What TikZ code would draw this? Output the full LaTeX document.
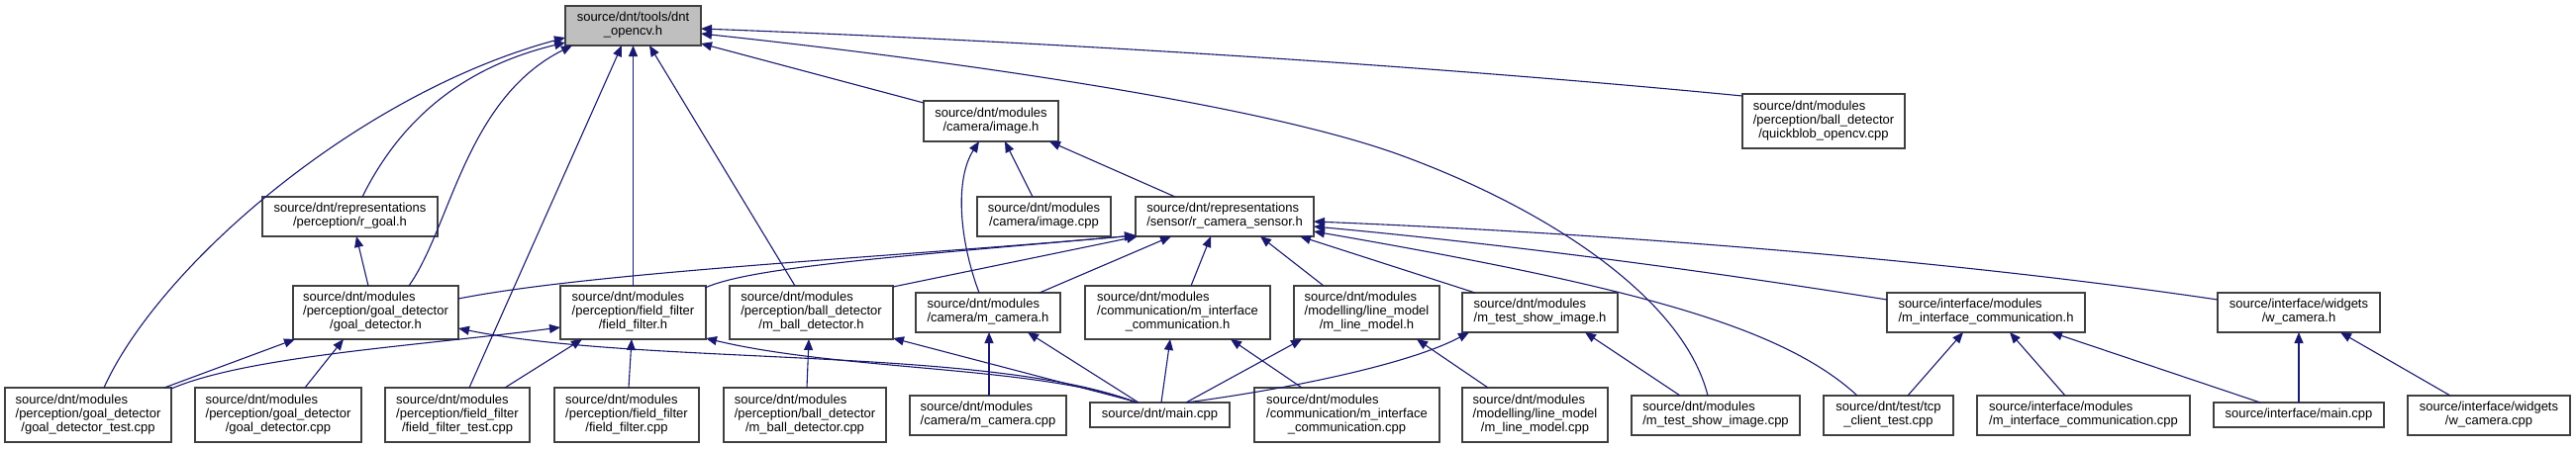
\documentclass[tikz,border=0pt]{standalone}
\usepackage{fontspec}
\setmainfont{Liberation Sans}
\usetikzlibrary{calc,arrows.meta}
\definecolor{edgeblue}{RGB}{25,25,112}
\definecolor{topgray}{RGB}{191,191,191}
\newcommand\lbl[2]{\begin{tabular}{@{}l@{}}#1\\\multicolumn{1}{@{}c@{}}{#2}\end{tabular}}
\begin{document}
\begin{tikzpicture}[x=1pt,y=-1pt,
  box/.style={draw=black!75, line width=1.1pt, fill=white, inner sep=0pt, outer sep=0pt,
    font=\fontsize{13}{14}\selectfont, align=center},
  edge/.style={draw=edgeblue, line width=1.1pt, -{Triangle[length=11pt,width=9pt,fill=edgeblue]}}]
\useasboundingbox (0,0) rectangle (2602,453);

% nodes
\node[box,minimum width=137pt,minimum height=40pt,fill=topgray] (opencv) at (639.5,26) {\lbl{source/dnt/tools/dnt}{\_opencv.h}};
\node[box,minimum width=177pt,minimum height=40pt] (rgoal) at (353.5,219) {\lbl{source/dnt/representations}{/perception/r\_goal.h}};
\node[box,minimum width=136pt,minimum height=41pt] (imageh) at (1001,122.5) {\lbl{source/dnt/modules}{/camera/image.h}};
\node[box,minimum width=135pt,minimum height=40pt] (imagecpp) at (1054.5,219) {\lbl{source/dnt/modules}{/camera/image.cpp}};
\node[box,minimum width=180pt,minimum height=40pt] (rcam) at (1237,219) {\lbl{source/dnt/representations}{/sensor/r\_camera\_sensor.h}};
\node[box,minimum width=164pt,minimum height=55pt] (quick) at (1842,122.5) {\lbl{source/dnt/modules\\/perception/ball\_detector}{/quickblob\_opencv.cpp}};
\node[box,minimum width=167pt,minimum height=54pt] (goalh) at (379.5,316) {\lbl{source/dnt/modules\\/perception/goal\_detector}{/goal\_detector.h}};
\node[box,minimum width=147pt,minimum height=54pt] (ffh) at (639.5,316) {\lbl{source/dnt/modules\\/perception/field\_filter}{/field\_filter.h}};
\node[box,minimum width=165pt,minimum height=54pt] (ballh) at (819.5,316) {\lbl{source/dnt/modules\\/perception/ball\_detector}{/m\_ball\_detector.h}};
\node[box,minimum width=146pt,minimum height=40pt] (camh) at (998,316) {\lbl{source/dnt/modules}{/camera/m\_camera.h}};
\node[box,minimum width=187pt,minimum height=54pt] (icomh) at (1189.5,316) {\lbl{source/dnt/modules\\/communication/m\_interface}{\_communication.h}};
\node[box,minimum width=147pt,minimum height=54pt] (lineh) at (1380.5,316) {\lbl{source/dnt/modules\\/modelling/line\_model}{/m\_line\_model.h}};
\node[box,minimum width=157pt,minimum height=40pt] (showh) at (1555.5,316) {\lbl{source/dnt/modules}{/m\_test\_show\_image.h}};
\node[box,minimum width=200pt,minimum height=40pt] (iicomh) at (2006,316) {\lbl{source/interface/modules}{/m\_interface\_communication.h}};
\node[box,minimum width=164pt,minimum height=40pt] (wcamh) at (2322,316) {\lbl{source/interface/widgets}{/w\_camera.h}};

\node[box,minimum width=168pt,minimum height=55pt] (goaltest) at (89,419.5) {\lbl{source/dnt/modules\\/perception/goal\_detector}{/goal\_detector\_test.cpp}};
\node[box,minimum width=168pt,minimum height=55pt] (goalcpp) at (281,419.5) {\lbl{source/dnt/modules\\/perception/goal\_detector}{/goal\_detector.cpp}};
\node[box,minimum width=146pt,minimum height=55pt] (fftest) at (462,419.5) {\lbl{source/dnt/modules\\/perception/field\_filter}{/field\_filter\_test.cpp}};
\node[box,minimum width=146pt,minimum height=55pt] (ffcpp) at (633,419.5) {\lbl{source/dnt/modules\\/perception/field\_filter}{/field\_filter.cpp}};
\node[box,minimum width=164pt,minimum height=55pt] (ballcpp) at (813,419.5) {\lbl{source/dnt/modules\\/perception/ball\_detector}{/m\_ball\_detector.cpp}};
\node[box,minimum width=158pt,minimum height=40pt] (camcpp) at (998,420) {\lbl{source/dnt/modules}{/camera/m\_camera.cpp}};
\node[box,minimum width=141pt,minimum height=25pt] (maincpp) at (1171.5,419.5) {source/dnt/main.cpp};
\node[box,minimum width=187pt,minimum height=55pt] (icomcpp) at (1360.5,419.5) {\lbl{source/dnt/modules\\/communication/m\_interface}{\_communication.cpp}};
\node[box,minimum width=147pt,minimum height=55pt] (linecpp) at (1550.5,419.5) {\lbl{source/dnt/modules\\/modelling/line\_model}{/m\_line\_model.cpp}};
\node[box,minimum width=170pt,minimum height=40pt] (showcpp) at (1733,420) {\lbl{source/dnt/modules}{/m\_test\_show\_image.cpp}};
\node[box,minimum width=131pt,minimum height=40pt] (tcp) at (1907.5,420) {\lbl{source/dnt/test/tcp}{\_client\_test.cpp}};
\node[box,minimum width=215pt,minimum height=40pt] (iicomcpp) at (2104.5,420) {\lbl{source/interface/modules}{/m\_interface\_communication.cpp}};
\node[box,minimum width=172pt,minimum height=25pt] (imain) at (2322,419.5) {source/interface/main.cpp};
\node[box,minimum width=164pt,minimum height=40pt] (wcamcpp) at (2514,420) {\lbl{source/interface/widgets}{/w\_camera.cpp}};

% edges into dnt_opencv.h
\draw[edge] ($(goaltest.north west)+(100,0)$) .. controls (160,270) and (360,95) .. ($(opencv.north west)+(0,32)$);
\draw[edge] ($(rgoal.north west)+(101,0)$) .. controls (410,110) and (480,65) .. ($(opencv.north west)+(0,37)$);
\draw[edge] ($(goalh.north west)+(117,0)$) .. controls (455,230) and (470,100) .. ($(opencv.north west)+(7,40)$);
\draw[edge] ($(fftest.north west)+(85,0)$) -- ($(opencv.north west)+(57,40)$);
\draw[edge] (ffh.north) -- (opencv.south);
\draw[edge] ($(ballh.north west)+(66,0)$) -- ($(opencv.north west)+(85,40)$);
\draw[edge] ($(imageh.north west)+(0,2)$) -- ($(opencv.north west)+(137,38)$);
\draw[edge] ($(showcpp.north west)+(77,0)$) .. controls (1700,300) and (1560,210) .. (1415,157)
  .. controls (1270,104) and (950,60) .. ($(opencv.north west)+(137,28)$);
\draw[edge] ($(quick.north west)+(0,2)$) .. controls (1400,62) and (1000,40) .. ($(opencv.north west)+(137,23)$);

% edges into image.h
\draw[edge] ($(camh.north west)+(64,0)$) .. controls (968,240) and (965,180) .. ($(imageh.north west)+(56,41)$);
\draw[edge] ($(imagecpp.north west)+(56,0)$) -- ($(imageh.north west)+(82,41)$);
\draw[edge] ($(rcam.north west)+(40,0)$) -- ($(imageh.north west)+(127,41)$);

% edges into r_camera_sensor.h
\draw[edge] ($(goalh.north west)+(167,13)$) .. controls (600,275) and (900,260) .. ($(rcam.north west)+(0,39)$);
\draw[edge] ($(ffh.north west)+(146,2)$) .. controls (760,270) and (900,260) .. ($(rcam.north west)+(0,39)$);
\draw[edge] ($(ballh.north west)+(165,1)$) -- ($(rcam.north west)+(2,40)$);
\draw[edge] ($(camh.north west)+(125,0)$) -- ($(rcam.north west)+(36,40)$);
\draw[edge] ($(icomh.north west)+(107,0)$) -- ($(rcam.north west)+(76,40)$);
\draw[edge] ($(lineh.north west)+(30,0)$) -- ($(rcam.north west)+(126,40)$);
\draw[edge] ($(showh.north west)+(13,0)$) -- ($(rcam.north west)+(166,40)$);
\draw[edge] ($(tcp.north west)+(34,0)$) .. controls (1800,330) and (1650,290) .. ($(rcam.north west)+(180,35)$);
\draw[edge] ($(iicomh.north west)+(0,7)$) .. controls (1700,270) and (1500,245) .. ($(rcam.north west)+(180,30)$);
\draw[edge] ($(wcamh.north west)+(0,7)$) .. controls (1950,260) and (1600,235) .. ($(rcam.north west)+(180,25)$);

% edge into r_goal.h
\draw[edge] ($(goalh.north west)+(76,0)$) -- ($(rgoal.north west)+(95,40)$);

% edges into goal_detector.h
\draw[edge] ($(goaltest.north west)+(161,0)$) -- ($(goalh.north west)+(2,54)$);
\draw[edge] ($(goalcpp.north west)+(111,0)$) -- ($(goalh.north west)+(51,54)$);
\draw[edge] ($(maincpp.north west)+(47,0)$) .. controls (1000,350) and (650,370) .. ($(goalh.north west)+(167,43)$);

% edges from main.cpp
\draw[edge] ($(maincpp.north west)+(47,0)$) .. controls (1050,370) and (850,375) .. ($(ffh.north west)+(147,53)$);
\draw[edge] ($(maincpp.north west)+(49,0)$) -- ($(ballh.north west)+(165,53)$);
\draw[edge] ($(maincpp.north west)+(49,0)$) -- ($(camh.north west)+(113,40)$);
\draw[edge] ($(maincpp.north west)+(72,0)$) -- ($(icomh.north west)+(86,54)$);
\draw[edge] ($(maincpp.north west)+(97,0)$) -- ($(lineh.north west)+(8,54)$);
\draw[edge] ($(maincpp.north west)+(97,0)$) .. controls (1290,395) and (1420,370) .. ($(showh.north west)+(7,40)$);

% edges into field_filter.h
\draw[edge] ($(goaltest.north west)+(168,1)$) .. controls (250,360) and (420,350) .. ($(ffh.north west)+(0,42)$);
\draw[edge] ($(fftest.north west)+(121,0)$) -- ($(ffh.north west)+(22,54)$);
\draw[edge] ($(ffcpp.north west)+(75,0)$) -- ($(ffh.north west)+(72,54)$);

% other edges
\draw[edge] ($(ballcpp.north west)+(84,0)$) -- ($(ballh.north west)+(80,54)$);
\draw[edge] ($(camcpp.north west)+(80,0)$) -- ($(camh.north west)+(74,40)$);
\draw[edge] ($(icomcpp.north west)+(48,0)$) -- ($(icomh.north west)+(147,54)$);
\draw[edge] ($(linecpp.north west)+(26,0)$) -- ($(lineh.north west)+(124,54)$);
\draw[edge] ($(showcpp.north west)+(49,0)$) -- ($(showh.north west)+(124,40)$);
\draw[edge] ($(tcp.north west)+(85,0)$) -- ($(iicomh.north west)+(77,40)$);
\draw[edge] ($(iicomcpp.north west)+(89,0)$) -- ($(iicomh.north west)+(124,40)$);
\draw[edge] ($(imain.north west)+(47,0)$) -- ($(iicomh.north west)+(166,40)$);
\draw[edge] ($(imain.north west)+(86,0)$) -- ($(wcamh.north west)+(82,40)$);
\draw[edge] ($(wcamcpp.north west)+(43,0)$) -- ($(wcamh.north west)+(124,40)$);
\end{tikzpicture}
\end{document}
